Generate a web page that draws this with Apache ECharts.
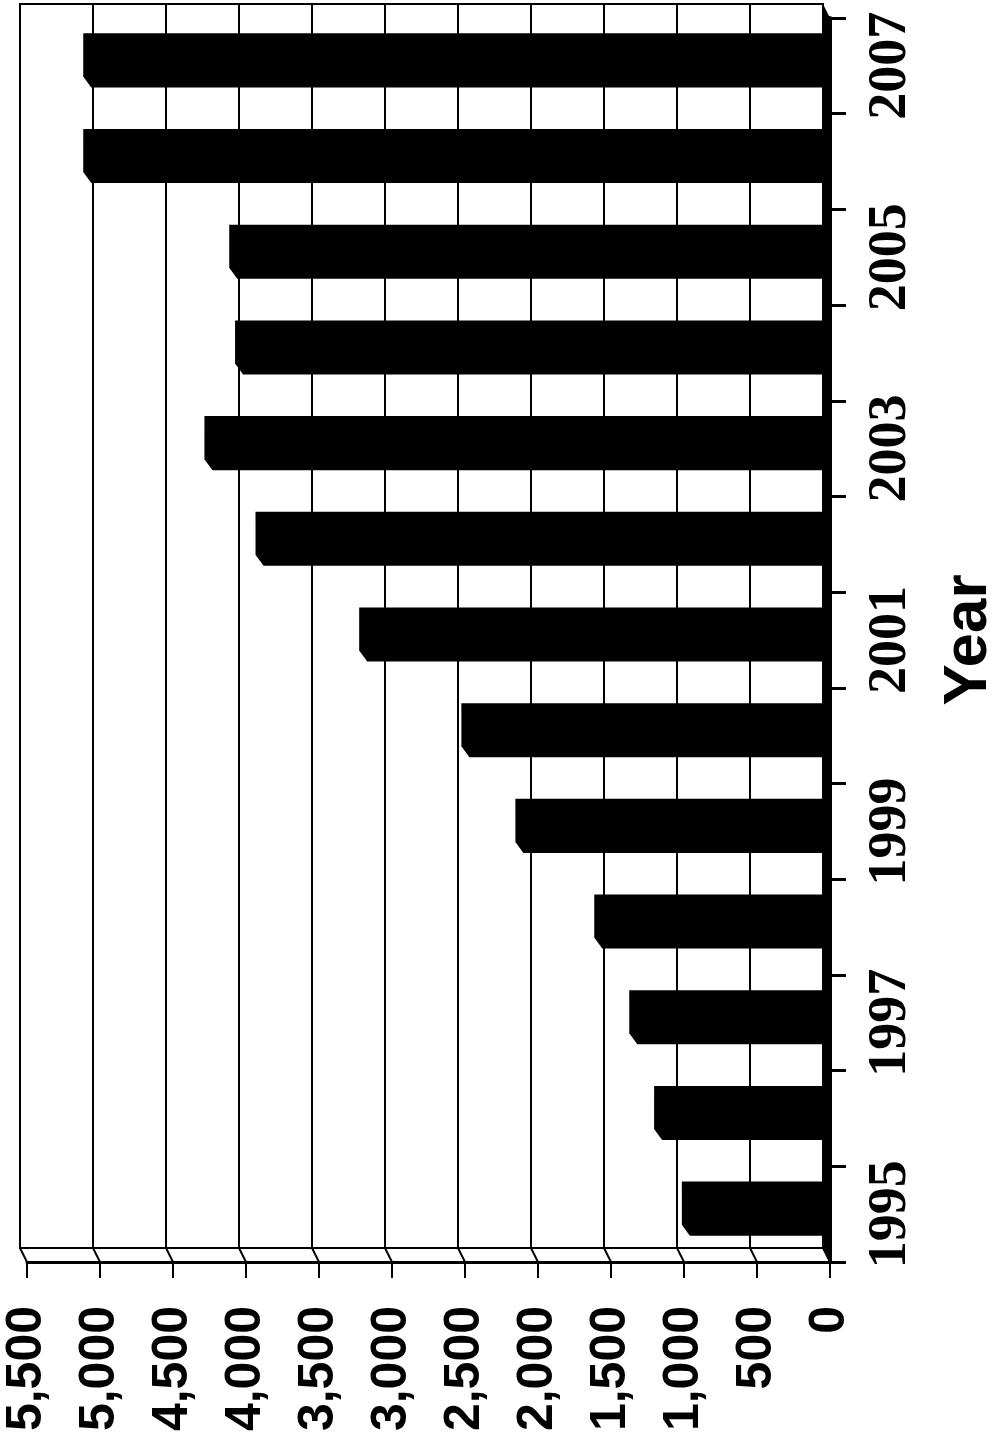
<!DOCTYPE html>
<html>
<head>
<meta charset="utf-8">
<script src="https://cdn.jsdelivr.net/npm/echarts@6/dist/echarts.min.js"></script>
<style>
  html, body { margin: 0; padding: 0; background: #fff; }
  #chart { width: 1000px; height: 1448px; }
</style>
</head>
<body>
<div id="chart"></div>
<script>
const years = ['1995', '1996', '1997', '1998', '1999', '2000', '2001', '2002', '2003', '2004', '2005', '2006', '2007'];
const counts = [960, 1150, 1320, 1560, 2100, 2470, 3170, 3880, 4230, 4020, 4060, 5060, 5060];
const valueMin = 0;
const valueMax = 5500;
const valueStep = 500;

// pseudo 3d look: front plane (grid 0) and back wall (grid 1)
const W = 1000;
const H = 1448;
const front = { left: 27, right: 170, top: 18, bottom: 186, outerBoundsMode: 'none' };
const back = { left: 20, right: 177, top: 4, bottom: 200, outerBoundsMode: 'none' };
const BAR_DX = 8;
const BAR_DY = 11;

const chart = echarts.init(document.getElementById('chart'));

function fmt(v) {
  return Number(v).toLocaleString('en-US');
}

chart.setOption({
  animation: false,
  backgroundColor: '#fff',
  grid: [
    front,
    Object.assign({ show: true, borderColor: '#000', borderWidth: 2, backgroundColor: '#fff' }, back),
  ],
  xAxis: [
    {
      type: 'value',
      gridIndex: 0,
      inverse: true,
      min: valueMin,
      max: valueMax,
      interval: valueStep,
      axisLine: { show: true, lineStyle: { color: '#000', width: 3 } },
      axisTick: { show: true, length: 16, lineStyle: { color: '#000', width: 2 } },
      splitLine: { show: false },
      axisLabel: {
        rotate: 90,
        margin: 44,
        color: '#000',
        fontFamily: 'Liberation Sans',
        fontWeight: 'bold',
        fontSize: 50,
        formatter: fmt,
      },
    },
    {
      type: 'value',
      gridIndex: 1,
      inverse: true,
      min: valueMin,
      max: valueMax,
      interval: valueStep,
      axisLine: { show: false },
      axisTick: { show: false },
      axisLabel: { show: false },
      splitLine: { show: true, lineStyle: { color: '#000', width: 2 } },
    },
  ],
  yAxis: [
    {
      type: 'category',
      gridIndex: 0,
      position: 'right',
      data: years,
      axisLine: { show: true, lineStyle: { color: '#000', width: 4 } },
      axisTick: { show: true, interval: 0, length: 16, lineStyle: { color: '#000', width: 3 } },
      axisLabel: {
        interval: 1,
        rotate: 90,
        margin: 34,
        color: '#000',
        fontFamily: 'Liberation Serif',
        fontWeight: 'bold',
        fontSize: 54,
      },
      name: 'Year',
      nameLocation: 'middle',
      nameRotate: 90,
      nameGap: 108,
      nameTextStyle: {
        color: '#000',
        fontFamily: 'Liberation Sans',
        fontWeight: 'bold',
        fontSize: 62,
      },
    },
    {
      type: 'value',
      gridIndex: 1,
      show: false,
    },
  ],
  series: [
    {
      type: 'custom',
      xAxisIndex: 0,
      yAxisIndex: 0,
      z: 5,
      encode: { x: 0, y: 1 },
      data: counts.map((c, i) => [c, i]),
      renderItem(params, api) {
        const cat = api.value(1);
        const p0 = api.coord([0, cat]);
        const p1 = api.coord([api.value(0), cat]);
        const h = api.size([0, 1])[1] * 0.45;
        const y0 = p0[1] - h / 2;
        const y1 = p0[1] + h / 2;
        const x0 = p0[0];
        const xv = p1[0];
        return {
          type: 'polygon',
          shape: {
            points: [
              [x0, y1],
              [xv, y1],
              [xv - BAR_DX, y1 - BAR_DY],
              [xv - BAR_DX, y0 - BAR_DY],
              [x0 - BAR_DX, y0 - BAR_DY],
              [x0, y0],
            ],
          },
          style: { fill: '#000' },
        };
      },
    },
  ],
});

// floor and side wall, placed from the two value axes
const floorFront = H - front.bottom;
const floorBack = H - back.bottom;
const wallTop = back.top;
const sideTop = front.top;
const elems = [];
for (let v = valueMin; v <= valueMax; v += valueStep) {
  const xf = chart.convertToPixel({ xAxisIndex: 0 }, v);
  const xb = chart.convertToPixel({ xAxisIndex: 1 }, v);
  elems.push({
    type: 'line',
    shape: { x1: xb, y1: floorBack, x2: xf, y2: floorFront },
    style: { stroke: '#000', lineWidth: 2 },
    z: 2,
  });
}
const zf = chart.convertToPixel({ xAxisIndex: 0 }, 0);
const zb = chart.convertToPixel({ xAxisIndex: 1 }, 0);
elems.push({
  type: 'polygon',
  shape: { points: [[zb, wallTop], [zf, sideTop], [zf, floorFront], [zb, floorBack]] },
  style: { fill: '#000' },
  z: 3,
});
chart.setOption({ graphic: elems });
</script>
</body>
</html>
